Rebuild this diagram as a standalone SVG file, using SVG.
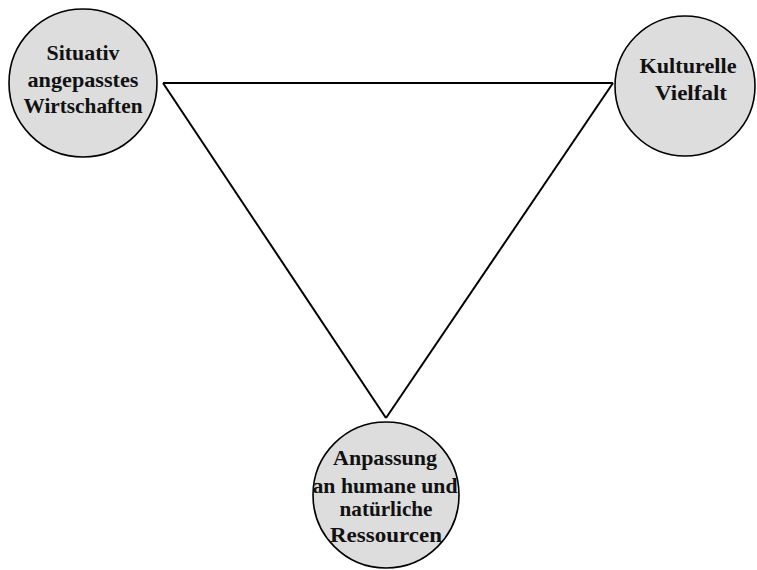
<svg xmlns="http://www.w3.org/2000/svg" width="757" height="570" viewBox="0 0 757 570">
<style>
.node circle{fill:#dddddd;stroke:#000;stroke-width:1.6}
.node text{font-family:"Liberation Serif","Times New Roman",serif;font-weight:bold;font-size:21px;fill:#111;text-anchor:middle}
.conn line{stroke:#000;stroke-width:2;fill:none}
</style>
<rect width="757" height="570" fill="#fff"/>
<g id="connectors" class="conn">
<line x1="163" y1="83" x2="613" y2="83"/>
<line x1="163" y1="83" x2="386" y2="418"/>
<line x1="613" y1="83" x2="386" y2="418"/>
</g>
<g id="node-situativ" class="node">
<circle cx="83" cy="83" r="74"/>
<text x="83" y="60" textLength="73" lengthAdjust="spacingAndGlyphs">Situativ</text>
<text x="83" y="87" textLength="111" lengthAdjust="spacingAndGlyphs">angepasstes</text>
<text x="83" y="113" textLength="119" lengthAdjust="spacingAndGlyphs">Wirtschaften</text>
</g>
<g id="node-kulturelle" class="node">
<circle cx="685" cy="86" r="70"/>
<text x="688" y="73" textLength="97" lengthAdjust="spacingAndGlyphs">Kulturelle</text>
<text x="691" y="100" textLength="72" lengthAdjust="spacingAndGlyphs">Vielfalt</text>
</g>
<g id="node-anpassung" class="node">
<circle cx="386" cy="495" r="73"/>
<text x="385" y="465" textLength="104" lengthAdjust="spacingAndGlyphs">Anpassung</text>
<text x="385" y="493" textLength="145" lengthAdjust="spacingAndGlyphs">an humane und</text>
<text x="386" y="516" textLength="93" lengthAdjust="spacingAndGlyphs">natürliche</text>
<text x="386" y="542" textLength="112" lengthAdjust="spacingAndGlyphs">Ressourcen</text>
</g>
</svg>
